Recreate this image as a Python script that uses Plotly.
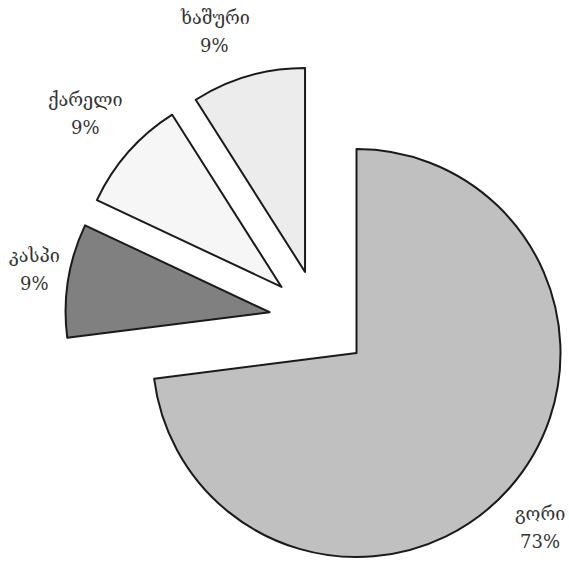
import math
import plotly.graph_objects as go

labels = ["გორი", "კასპი", "ქარელი", "ხაშური"]
values = [73, 9, 9, 9]
colors = ["#c0c0c0", "#808080", "#f6f6f6", "#ececec"]
label_dist = [1.243, 1.170, 1.283, 1.261]   # label centre distance, fraction of radius
label_turn = [2.2, 1.2, 0.0, -4.3]          # label angle offset from slice bisector, degrees

W, H = 569, 561
CX, CY = 319, 320       # pie centre in pixels (before explosion)
R = 204                 # radius in pixels
PULL = 50               # explosion distance in pixels
LINE_GAP = 14           # half distance between the two label lines, pixels
FONT = dict(family="DejaVu Serif, DejaVu Sans", size=18, color="#333333")

total = sum(values)
n = len(values)
fig = go.Figure()

start = 0.0
for i, (lab, v) in enumerate(zip(labels, values)):
    span = 360.0 * v / total
    mid = math.radians(start + span / 2)
    start += span
    vx = CX + PULL * math.sin(mid)
    vy = CY - PULL * math.cos(mid)
    fig.add_trace(go.Pie(
        labels=labels, values=values, sort=False,
        direction="clockwise", rotation=0,
        domain=dict(x=[(vx - R) / W, (vx + R) / W],
                    y=[(H - vy - R) / H, (H - vy + R) / H]),
        marker=dict(
            colors=[colors[j] if j == i else "rgba(0,0,0,0)" for j in range(n)],
            line=dict(color="#1a1a1a", width=[2 if j == i else 0 for j in range(n)]),
        ),
        textinfo="none",
        showlegend=False,
        hoverinfo="label+percent",
    ))
    # data label, outside the arc near the slice bisector
    ang = mid + math.radians(label_turn[i])
    lx = vx + R * label_dist[i] * math.sin(ang)
    ly = vy - R * label_dist[i] * math.cos(ang)
    for txt, shift in ((lab, LINE_GAP), (f"{round(100 * v / total)}%", -LINE_GAP)):
        fig.add_annotation(
            x=lx / W, y=1 - ly / H, xref="paper", yref="paper",
            xanchor="center", yanchor="middle", yshift=shift,
            showarrow=False, text=txt, font=FONT,
        )

fig.update_layout(
    width=W, height=H,
    margin=dict(l=0, r=0, t=0, b=0),
    paper_bgcolor="white",
    plot_bgcolor="white",
)
fig.write_html("out.html", config={"displayModeBar": False},
               post_script="document.body.style.margin='0';")
